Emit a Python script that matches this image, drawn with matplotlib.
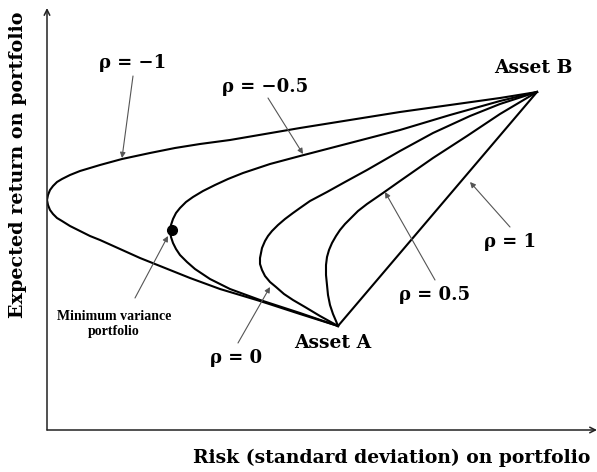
"""Two-asset portfolio frontier for different correlations (stylised)."""

import matplotlib

matplotlib.use("Agg")
import matplotlib.pyplot as plt

# (risk, return) pairs, arbitrary units
asset_a = (29.1, 10.4)
asset_b = (49.0, 33.8)
min_var = (12.5, 20.0)

rho_m1_risk = [49.0, 45.3, 40.3, 35.3, 30.3, 25.3, 21.8, 18.3, 15.3, 12.8, 10.3, 7.5, 5.3, 4.3,
               3.3, 2.3, 1.5, 1.0, 0.6, 0.3, 0.1, 0.0,
               0.1, 0.3, 0.6, 1.0, 1.5, 2.3, 3.3, 4.3, 5.3, 7.3, 9.3, 11.3, 14.3, 17.3, 21.3,
               25.3, 29.1]
rho_m1_ret = [33.8, 33.2, 32.5, 31.8, 31.0, 30.2, 29.6, 29.0, 28.6, 28.2, 27.7, 27.1, 26.5, 26.2,
              25.9, 25.5, 25.1, 24.8, 24.4, 24.0, 23.5, 23.0,
              22.5, 22.0, 21.6, 21.2, 20.9, 20.4, 19.9, 19.4, 19.0, 18.1, 17.2, 16.4, 15.2, 14.1,
              12.9, 11.6, 10.4]

rho_m05_risk = [49.0, 45.3, 40.3, 35.3, 30.3, 25.3, 22.3, 19.6, 18.1, 16.8, 15.6, 14.6, 13.9,
                13.3, 12.9, 12.6, 12.4, 12.3,
                12.4, 12.6, 12.9, 13.3, 14.0, 14.8, 16.3, 18.3, 21.3, 25.3, 29.1]
rho_m05_ret = [33.8, 32.9, 31.5, 30.0, 28.7, 27.4, 26.6, 25.7, 25.1, 24.5, 23.9, 23.3, 22.8,
               22.2, 21.7, 21.1, 20.5, 19.9,
               19.3, 18.7, 18.1, 17.5, 16.8, 16.1, 15.1, 14.1, 13.0, 11.7, 10.4]

rho_0_risk = [49.0, 45.3, 42.3, 38.6, 35.3, 32.0, 29.8, 28.0, 26.3, 25.3, 24.6, 23.8, 23.1,
              22.5, 22.1, 21.8, 21.5, 21.3,
              21.3, 21.5, 21.8, 22.3, 22.9, 23.7, 24.6, 25.8, 27.3, 29.1]
rho_0_ret = [33.8, 32.6, 31.4, 29.7, 27.9, 26.0, 24.8, 23.8, 22.9, 22.2, 21.7, 21.1, 20.5,
             19.9, 19.4, 18.9, 18.2, 17.2,
             16.6, 16.0, 15.4, 14.8, 14.3, 13.6, 13.0, 12.3, 11.4, 10.4]

rho_05_risk = [49.0, 45.3, 42.0, 38.6, 35.3, 33.6, 32.0, 31.1, 30.3, 29.8, 29.3, 28.9, 28.5,
               28.2, 28.0, 27.9,
               27.9, 28.0, 28.1, 28.3, 28.6, 28.9, 29.1]
rho_05_ret = [33.8, 31.6, 29.4, 27.2, 24.9, 23.7, 22.6, 21.9, 21.1, 20.6, 20.0, 19.4, 18.7,
              18.0, 17.3, 16.5,
              15.5, 14.5, 13.5, 12.5, 11.6, 10.9, 10.4]

rho_1_risk = [asset_a[0], asset_b[0]]
rho_1_ret = [asset_a[1], asset_b[1]]

SERIF = ["DejaVu Serif"]
SMALL = ["Liberation Serif", "DejaVu Serif"]


def main() -> None:
    fig = plt.figure(figsize=(5.97, 4.72), dpi=100)
    ax = fig.add_axes([47 / 597, 42 / 472, 550 / 597, 422 / 472])
    ax.set_xlim(0, 55)
    ax.set_ylim(0, 42.2)
    ax.axis("off")

    # axes with arrow heads
    ax.annotate("", xy=(1, 0), xytext=(0, 0), xycoords="axes fraction",
                arrowprops=dict(arrowstyle="->", color="#222", lw=1.1, shrinkA=0, shrinkB=0))
    ax.annotate("", xy=(0, 1), xytext=(0, 0), xycoords="axes fraction",
                arrowprops=dict(arrowstyle="->", color="#222", lw=1.1, shrinkA=0, shrinkB=0))

    for xs, ys in [(rho_m1_risk, rho_m1_ret), (rho_m05_risk, rho_m05_ret),
                   (rho_0_risk, rho_0_ret), (rho_05_risk, rho_05_ret),
                   (rho_1_risk, rho_1_ret)]:
        ax.plot(xs, ys, color="black", lw=1.5, solid_joinstyle="round")
    ax.plot(*min_var, "o", color="black", ms=7)

    arrow = dict(arrowstyle="-|>", color="#555", lw=0.8, mutation_scale=8,
                 shrinkA=0, shrinkB=0)
    rho_labels = [
        ("ρ = −1", (8.6, 36.7), (8.6, 35.4), (7.5, 27.2)),
        ("ρ = −0.5", (21.8, 34.3), (22.1, 33.2), (25.6, 27.6)),
        ("ρ = 0", (18.9, 7.2), (19.1, 8.7), (22.3, 14.3)),
        ("ρ = 0.5", (38.8, 13.5), (38.8, 15.0), (33.8, 23.8)),
        ("ρ = 1", (46.3, 18.8), (46.3, 20.3), (42.3, 24.8)),
    ]
    for txt, pos, tail, head in rho_labels:
        ax.text(*pos, txt, ha="center", va="center", fontsize=13, fontweight="bold",
                family=SERIF)
        ax.annotate("", xy=head, xytext=tail, arrowprops=arrow)

    ax.text(6.7, 10.6, "Minimum variance\nportfolio", ha="center", va="center",
            fontsize=10, fontweight="bold", family=SMALL, linespacing=1.2)
    ax.annotate("", xy=(12.1, 19.4), xytext=(8.8, 13.2), arrowprops=arrow)

    ax.text(28.6, 8.7, "Asset A", ha="center", va="center", fontsize=13.5,
            fontweight="bold", family=SERIF)
    ax.text(48.6, 36.2, "Asset B", ha="center", va="center", fontsize=13.5,
            fontweight="bold", family=SERIF)

    fig.text(392 / 597, 1 - 458 / 472, "Risk (standard deviation) on portfolio",
             ha="center", va="center", fontsize=13.5, fontweight="bold", family=SERIF)
    fig.text(18 / 597, 1 - 165 / 472, "Expected return on portfolio", rotation=90,
             ha="center", va="center", fontsize=13.8, fontweight="bold", family=SERIF)

    fig.savefig("out.png", dpi=100)


if __name__ == "__main__":
    main()
